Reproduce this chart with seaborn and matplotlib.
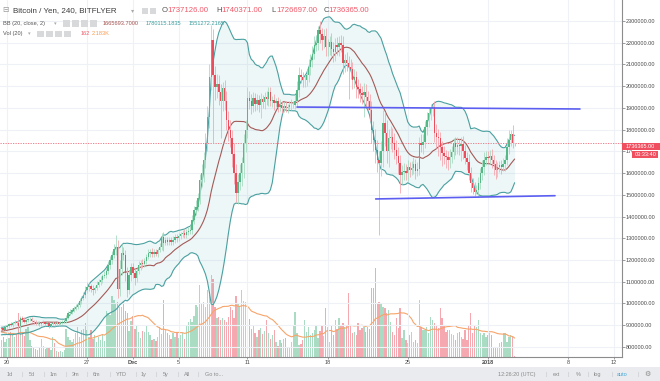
import matplotlib
import matplotlib.pyplot as plt
import numpy as np
import pandas as pd
import seaborn as sns
from matplotlib.patches import Rectangle
from matplotlib.transforms import Bbox, TransformedBbox

# GUIに依存しないバックエンドを設定
matplotlib.use("Agg")

W, H = 660, 381

# 表示範囲より前の4時間足（ボリンジャーバンドと出来高MAの計算用）
warm_close = [862, 868, 860, 865, 872, 866, 858, 864, 870, 876, 868, 873, 879, 884, 876, 881, 887, 880, 884]
warm_volume = [2.5, 3.1, 2.2, 2.8, 3.4, 2.0, 2.9, 3.6, 2.4, 2.7, 3.0, 2.3, 2.6, 3.2, 2.1, 2.8, 3.3, 2.5, 2.9]

# 4時間足の終値（千円）: 11/19 12:00 から 1/3 まで
close = [
    885, 880, 892,
    895, 905, 900, 910, 915, 912,
    895, 935, 925, 915, 922, 928,
    930, 920, 915, 908, 912, 906,
    910, 915, 905, 908, 897, 905,
    912, 905, 910, 906, 912, 915,
    920, 935, 955, 962, 970, 979,
    985, 993, 1010, 1025, 1039, 1060,
    1076, 1080, 1068, 1062, 1070, 1085,
    1099, 1110, 1125, 1131, 1150, 1175,
    1200, 1225, 1250, 1262, 1065, 1160,
    1232, 1223, 1140, 1062, 1130, 1168,
    1140, 1117, 1150, 1175, 1186, 1180,
    1195, 1215, 1232, 1237, 1228, 1235,
    1230, 1245, 1260, 1306, 1280, 1290,
    1283, 1292, 1285, 1290, 1306, 1300,
    1310, 1318, 1324, 1315, 1329, 1335,
    1340, 1384, 1430, 1444, 1485, 1568,
    1600, 1660, 1740, 1858, 2042, 2213,
    2051, 1996, 2010, 1975, 1930, 1990,
    1930, 1844, 1800, 1760, 1690, 1600,
    1508, 1560, 1600, 1646, 1738, 1800,
    1946, 1930, 1910, 1945, 1920, 1935,
    1912, 1940, 1925, 1950, 1940, 1973,
    1930, 1937, 1922, 1930, 1905, 1914,
    1900, 1910, 1898, 1905, 1912, 1914,
    1914, 1930, 1982, 2051, 2040, 2028,
    2028, 2050, 2088, 2120, 2150, 2190,
    2200, 2258, 2240, 2213, 2230, 2180,
    2180, 2203, 2170, 2157, 2190, 2180,
    2199, 2190, 2107, 2120, 2107, 2090,
    2080, 2028, 2040, 1996, 1985, 1970,
    1960, 1973, 1950, 1930, 1890, 1800,
    1752, 1706, 1660, 1646, 1700, 1830,
    1784, 1700, 1760, 1766, 1740, 1706,
    1680, 1646, 1591, 1605, 1610, 1600,
    1628, 1614, 1625, 1640, 1610, 1620,
    1738, 1730, 1745, 1812, 1844, 1876,
    1900, 1904, 1784, 1766, 1760, 1720,
    1692, 1680, 1674, 1660, 1675, 1697,
    1738, 1720, 1730, 1725, 1735, 1700,
    1670, 1651, 1600, 1554, 1531, 1513,
    1520, 1554, 1600, 1628, 1660, 1674,
    1670, 1680, 1660, 1640, 1614, 1628,
    1635, 1628, 1640, 1660, 1720, 1752,
    1778, 1737.126, 1736.365,
]

# ヒゲの長さ（千円）
wick_up = [
    6, 5, 8,
    8, 5, 10, 6, 7, 5,
    10, 8, 6, 12, 5, 7,
    6, 9, 5, 7, 8, 6,
    5, 8, 6, 9, 7, 5,
    7, 5, 9, 6, 8, 10,
    8, 10, 9, 12, 8, 10,
    12, 9, 15, 10, 14, 20,
    25, 12, 10, 15, 10, 18,
    12, 15, 10, 18, 14, 20,
    20, 18, 25, 53, 30, 40,
    40, 30, 25, 30, 25, 20,
    20, 25, 15, 20, 15, 18,
    15, 12, 18, 14, 20, 15,
    15, 12, 18, 20, 25, 15,
    18, 15, 12, 20, 15, 14,
    14, 12, 16, 18, 12, 15,
    20, 25, 20, 30, 25, 30,
    40, 35, 45, 50, 60, 69,
    50, 40, 45, 40, 35, 30,
    40, 50, 40, 45, 40, 50,
    40, 35, 40, 30, 40, 45,
    50, 30, 35, 30, 25, 30,
    25, 30, 20, 25, 30, 25,
    25, 20, 25, 15, 20, 25,
    20, 15, 20, 15, 20, 25,
    20, 30, 40, 35, 30, 25,
    25, 30, 35, 30, 35, 40,
    35, 17, 40, 30, 35, 40,
    35, 30, 40, 35, 30, 35,
    30, 35, 40, 30, 35, 30,
    35, 30, 40, 30, 35, 30,
    30, 40, 35, 30, 35, 40,
    40, 50, 45, 40, 50, 60,
    50, 60, 45, 50, 40, 45,
    45, 40, 35, 30, 35, 30,
    30, 25, 30, 35, 25, 30,
    30, 40, 35, 30, 35, 30,
    20, 8, 30, 40, 35, 30,
    30, 35, 25, 30, 35, 30,
    25, 30, 35, 25, 30, 35,
    30, 25, 35, 30, 25, 30,
    25, 30, 25, 30, 35, 30,
    30, 25, 30, 25, 20, 25,
    20, 25, 30, 25, 40, 45,
    20, 42, 3.245,
]
wick_dn = [
    5, 7, 4,
    6, 8, 5, 7, 4, 9,
    9, 6, 8, 5, 10, 6,
    7, 5, 9, 6, 8, 10,
    8, 6, 10, 5, 12, 6,
    6, 9, 5, 8, 6, 7,
    6, 8, 7, 9, 10, 7,
    8, 10, 9, 12, 10, 15,
    10, 20, 15, 22, 12, 10,
    10, 12, 15, 10, 12, 15,
    15, 20, 18, 25, 40, 30,
    30, 25, 35, 30, 20, 25,
    25, 30, 20, 15, 20, 15,
    12, 15, 10, 18, 12, 15,
    12, 15, 10, 15, 40, 12,
    15, 12, 18, 15, 12, 16,
    12, 15, 10, 14, 12, 15,
    15, 20, 18, 25, 20, 25,
    30, 40, 35, 40, 50, 60,
    311, 60, 50, 60, 170, 45,
    40, 45, 50, 40, 60, 50,
    41, 50, 40, 60, 70, 40,
    40, 35, 40, 30, 35, 30,
    30, 60, 25, 30, 25, 30,
    20, 25, 30, 20, 25, 20,
    25, 20, 15, 20, 15, 20,
    15, 20, 25, 30, 25, 30,
    30, 25, 30, 35, 30, 25,
    30, 35, 40, 45, 35, 40,
    40, 35, 30, 45, 40, 35,
    40, 35, 50, 40, 35, 150,
    45, 40, 35, 50, 40, 45,
    40, 102, 45, 40, 50, 60,
    50, 60, 55, 331, 60, 70,
    60, 55, 70, 50, 45, 40,
    40, 50, 83, 40, 35, 30,
    35, 30, 25, 30, 35, 25,
    30, 35, 40, 30, 35, 30,
    30, 35, 40, 50, 80, 60,
    60, 40, 50, 45, 35, 30,
    30, 35, 30, 40, 70, 35,
    30, 35, 30, 40, 25, 20,
    10, 30, 25, 30, 35, 25,
    25, 30, 35, 50, 40, 30,
    25, 30, 20, 30, 25, 30,
    25, 20, 9.668,
]

# 出来高（K）
volume = [
    1.9, 2.2, 1.6,
    2.0, 2.1, 2.7, 2.4, 2.2, 2.4,
    4.8, 4.3, 2.7, 2.3, 3.1, 3.3,
    1.8, 1.2, 1.0, 0.9, 0.8, 1.0,
    2.0, 1.2, 0.9, 1.0, 1.1, 0.8,
    2.2, 1.5, 0.6, 0.5, 0.7, 0.5,
    0.8, 3.0, 2.2, 1.8, 1.6, 2.0,
    2.6, 3.3, 2.2, 2.9, 3.1, 3.7,
    2.9, 2.2, 2.9, 2.0, 2.4, 1.6,
    2.2, 1.8, 2.5, 1.7, 5.0, 4.8,
    4.6, 6.6, 6.2, 5.9, 6.0, 5.4,
    5.5, 6.0, 5.0, 4.8, 2.8, 3.9,
    4.5, 3.0, 3.4, 2.7, 2.1, 2.8,
    2.7, 3.5, 2.7, 2.4, 1.9, 2.0,
    1.7, 2.2, 3.3, 2.5, 6.2, 3.0,
    2.6, 2.4, 2.0, 2.6, 2.2, 2.7,
    2.1, 2.4, 2.6, 2.0, 3.5, 3.8,
    4.1, 3.8, 4.5, 5.7, 5.5, 7.8,
    5.8, 6.0, 5.5, 7.3, 6.8, 8.9,
    8.5, 5.4, 4.2, 4.4, 4.0, 4.3,
    4.0, 3.8, 4.4, 5.4, 5.1, 4.2,
    6.6, 5.9, 5.6, 7.3, 6.1, 6.0,
    6.5, 4.1, 3.0, 3.4, 2.6, 2.2,
    2.9, 3.2, 2.5, 2.8, 4.0, 2.6,
    2.0, 2.4, 2.9, 1.6, 1.2, 1.9,
    1.5, 2.0, 2.1, 1.0, 1.0, 1.6,
    3.5, 4.9, 2.6, 1.3, 1.4, 1.8,
    4.0, 2.7, 3.3, 2.4, 2.6, 2.9,
    3.5, 2.1, 2.8, 3.4, 2.3, 5.3,
    3.3, 1.6, 3.5, 2.4, 4.0, 3.0,
    4.2, 3.5, 3.7, 3.3, 3.5, 7.0,
    3.5, 2.6, 2.7, 2.4, 3.7, 2.9,
    3.2, 3.3, 2.7, 3.3, 3.0, 7.5,
    7.5, 9.7, 5.9, 6.0, 5.9, 5.4,
    5.3, 4.8, 5.1, 3.8, 2.7, 2.4,
    4.2, 3.2, 5.3, 2.1, 2.9, 1.9,
    1.5, 2.4, 2.7, 1.6, 1.9, 1.5,
    6.2, 3.3, 2.9, 2.9, 3.3, 2.6,
    4.4, 4.0, 3.7, 3.5, 3.2, 5.3,
    4.2, 3.5, 2.7, 2.9, 2.9, 2.5,
    2.4, 1.9, 2.6, 2.7, 2.2, 2.0,
    2.9, 1.9, 3.5, 4.8, 2.6, 3.5,
    3.3, 4.0, 2.6, 2.4, 2.6, 2.2,
    2.4, 2.6, 2.4, 1.0, 1.1, 1.1,
    1.5, 1.6, 2.6, 2.6, 1.6, 2.2,
    2.4, 2.2, 0.162,
]

# 軸ラベル（x は 11/20 からの日数）
x_tick_days = [0, 7, 11, 15, 21, 28, 35, 42, 49, 53]
x_tick_labels = ["20", "27", "Dec", "5", "11", "18", "25", "2018", "8", "12"]
price_ticks = list(range(800000, 2300001, 100000))

# 手書きのトレンドライン（日数, 価格）
upper_line_days = [25.33, 50.04]
upper_line_prices = [1904000, 1895000]
lower_line_days = [32.2, 47.86]
lower_line_prices = [1481000, 1496000]

last_price = 1736365

# データフレーム作成
n_warm = len(warm_close)
df_all = pd.DataFrame({
    "close": np.array(warm_close + close, dtype=float) * 1000,
    "volume": np.array(warm_volume + volume, dtype=float),
})
df_all["t"] = -0.5 + (np.arange(len(df_all)) - n_warm) / 6
df_all["open"] = df_all["close"].shift(1)
df_all["basis"] = df_all["close"].rolling(20).mean()
sd = df_all["close"].rolling(20).std(ddof=0)
df_all["upper"] = df_all["basis"] + 2 * sd
df_all["lower"] = df_all["basis"] - 2 * sd
df_all["vol_ma"] = df_all["volume"].rolling(20).mean()

df = df_all.iloc[n_warm:].reset_index(drop=True)
df["high"] = df[["open", "close"]].max(axis=1) + np.array(wick_up) * 1000
df["low"] = df[["open", "close"]].min(axis=1) - np.array(wick_dn) * 1000
df["up"] = df["close"] >= df["open"]

GREEN, RED = "#53b987", "#eb4d5c"
GREEN_L, RED_L = "#a9dcc3", "#f5a8b0"

sns.set_style("white")
plt.rcParams["font.family"] = ["Liberation Sans", "DejaVu Sans"]

fig = plt.figure(figsize=(W / 100, H / 100), dpi=100)
rect = [0, 24 / H, 622 / W, 357 / H]
vax = fig.add_axes(rect)
ax = fig.add_axes(rect)
ax.patch.set_visible(False)

xlim = (-7 / 11.45, 615 / 11.45)

# 出来高（下側）
vax.bar(df["t"], df["volume"], width=0.115, color=np.where(df["up"], GREEN_L, RED_L), linewidth=0)
sns.lineplot(data=df, x="t", y="vol_ma", ax=vax, color="#f7a46a", linewidth=0.8)
vax.set_xlim(*xlim)
vax.set_ylim(0, 38.9)
vax.set_axis_off()

# ボリンジャーバンド
ax.set_axisbelow(True)
ax.grid(True, color="#eef1f6", linewidth=0.8)
ax.fill_between(df["t"], df["lower"], df["upper"], color="#2e9e9e", alpha=0.08, linewidth=0, zorder=1)
sns.lineplot(data=df, x="t", y="upper", ax=ax, color="#4aa0a0", linewidth=0.8, zorder=2)
sns.lineplot(data=df, x="t", y="lower", ax=ax, color="#4aa0a0", linewidth=0.8, zorder=2)
sns.lineplot(data=df, x="t", y="basis", ax=ax, color="#a35a58", linewidth=0.8, zorder=2)

# ローソク足
ax.vlines(df["t"], df["low"], df["high"], colors=np.where(df["up"], GREEN_L, RED_L), linewidth=0.6, zorder=3)
body = (df["close"] - df["open"]).abs().clip(lower=1500)
ax.bar(df["t"], body, bottom=df[["open", "close"]].min(axis=1), width=0.12,
       color=np.where(df["up"], GREEN, RED), linewidth=0, zorder=4)

# トレンドラインと現在値
ax.plot(upper_line_days, upper_line_prices, color="#5b5ef0", linewidth=1.2, zorder=5)
ax.plot(lower_line_days, lower_line_prices, color="#5b5ef0", linewidth=1.2, zorder=5)
ax.axhline(last_price, color="#f06a78", linewidth=0.6, linestyle=(0, (1.5, 1.5)), zorder=2)

ax.set_xlim(*xlim)
ax.set_ylim(753700, 2396600)
ax.set_xlabel("")
ax.set_ylabel("")
for s in ["top", "left"]:
    ax.spines[s].set_visible(False)
for s in ["right", "bottom"]:
    ax.spines[s].set_visible(True)
    ax.spines[s].set_color("#8c8c8c")
    ax.spines[s].set_linewidth(0.8)

ax.yaxis.tick_right()
ax.set_yticks(price_ticks)
ax.set_yticklabels([f"{p:.2f}" for p in price_ticks])
ax.set_xticks(x_tick_days)
ax.set_xticklabels(x_tick_labels)
ax.tick_params(axis="y", right=True, left=False, labelsize=4, labelcolor="#4a4a4a",
               color="#8c8c8c", length=1.8, width=0.6, pad=0.8)
ax.tick_params(axis="x", bottom=True, labelsize=4, labelcolor="#4a4a4a",
               color="#8c8c8c", length=1.5, width=0.6, pad=0.6)
for lab in ax.get_xticklabels():
    if lab.get_text() in ("Dec", "2018"):
        lab.set_fontweight("bold")

# 現在値ラベルに隠れる目盛りは左端だけ見せる
clip = TransformedBbox(Bbox([[622 / W, 0], [632 / W, 1]]), fig.transFigure)
for lab in ax.get_yticklabels():
    if lab.get_text() == "1700000.00":
        lab.set_clip_box(clip)
        lab.set_clip_on(True)


def fx(x):
    return x / W


def fy(y):
    return 1 - y / H


def box(x0, y0, x1, y1, color, z=3):
    fig.add_artist(Rectangle((fx(x0), fy(y1)), (x1 - x0) / W, (y1 - y0) / H,
                             transform=fig.transFigure, color=color, linewidth=0, zorder=z))


def label(x, y, s, size=4.1, color="#555555", **kw):
    fig.text(fx(x), fy(y), s, fontsize=size, color=color, va="center", ha="left", zorder=6, **kw)


# 凡例（上部）
label(2, 10.5, "⊟", size=5.5, color="#9a9a9a")
label(13, 10.5, "Bitcoin / Yen, 240, BITFLYER", size=5.8, color="#3c3c3c")
label(131, 10.5, "▾", size=4.5, color="#aaaaaa")
for x0 in [142, 150]:
    box(x0, 7.5, x0 + 6, 13.5, "#d8d9db")
ohlc = [(161.5, "O", 167, "1737126.00"), (216.5, "H", 221, "1740371.00"),
        (271.5, "L", 276, "1726697.00"), (323.5, "C", 328, "1736365.00")]
for xa, a, xb, b in ohlc:
    label(xa, 10.5, a, size=5.6, color="#555555")
    label(xb, 10.5, b, size=5.6, color="#ef5a6a")

label(3, 23.3, "BB (20, close, 2)")
label(54, 23.3, "▾", size=3.8, color="#aaaaaa")
for x0 in [63, 72, 81, 90]:
    box(x0, 20.3, x0 + 6.5, 26.5, "#d8d9db")
label(103, 23.3, "1665693.7000", color="#a3524f")
label(146, 23.3, "1780115.1835", color="#3c9c9c")
label(189, 23.3, "1551272.2165", color="#3c9c9c")

label(3, 33.7, "Vol (20)")
label(28, 33.7, "▾", size=3.8, color="#aaaaaa")
for x0 in [37, 46, 55, 64]:
    box(x0, 30.7, x0 + 6.5, 37, "#d8d9db")
label(80.5, 33.7, "162", color="#ef5a6a")
label(92, 33.7, "2.183K", color="#f59a4e")

# 右軸の現在値ラベル
box(622, 143, 660, 150, "#ef4f5f", z=5)
label(626, 146.5, "1736365.00", size=4, color="white")
box(632, 150.5, 658, 158, "#ef4f5f", z=5)
label(634.5, 154.2, "03:33:40", size=4, color="white")

# 下部ツールバー
box(0, 367, W, H, "#eaebee", z=2)
for x, s in [(7, "1d"), (29, "5d"), (50, "1m"), (72, "3m"), (93, "6m"), (116, "YTD"),
             (141, "1y"), (163, "5y"), (184, "All"), (205, "Go to...")]:
    label(x, 374.5, s, size=4, color="#8a8a8a")
for x in [22, 44, 65, 87, 109, 135, 156, 177, 198, 545, 568, 587, 611, 637]:
    label(x, 374.5, "|", size=4, color="#c4c5c8")
label(498, 374.5, "12:26:20 (UTC)", size=4, color="#8a8a8a")
label(553, 374.5, "ext", size=4, color="#8a8a8a")
label(576, 374.5, "%", size=4, color="#8a8a8a")
label(594, 374.5, "log", size=4, color="#8a8a8a")
label(617, 374.5, "auto", size=4, color="#3ea5d8")
label(644, 374.5, "⚙", size=5, color="#8a8a8a")

fig.savefig("out.png", dpi=100)
plt.close(fig)
